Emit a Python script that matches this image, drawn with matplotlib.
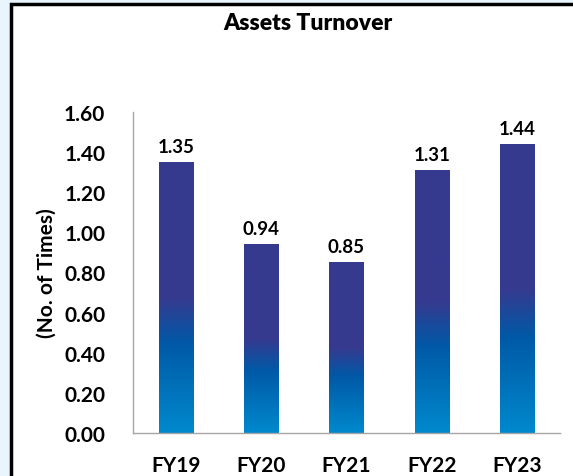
import matplotlib
matplotlib.use("Agg")
import matplotlib.pyplot as plt
import numpy as np
from matplotlib.colors import LinearSegmentedColormap
from matplotlib.patches import Rectangle

categories = ["FY19", "FY20", "FY21", "FY22", "FY23"]
values = [1.35, 0.94, 0.85, 1.31, 1.44]
yticks = [0.0, 0.2, 0.4, 0.6, 0.8, 1.0, 1.2, 1.4, 1.6]
title = "Assets Turnover"
ylabel = "(No. of Times)"

plt.rcParams['font.family'] = ['Lato', 'DejaVu Sans']

W, H = 573, 477
fig = plt.figure(figsize=(W/100, H/100), dpi=100)
fig.patch.set_facecolor("#E9F5FC")

# white panel with black border (top & left visible)
panel = Rectangle((11/W, -0.05), 1.1, 1 - 5/H + 0.05, transform=fig.transFigure,
                  facecolor="white", edgecolor="black", linewidth=2.5, zorder=-10)
fig.patches.append(panel)

ax = fig.add_axes([133/W, 1 - 434/H, (560-133)/W, (434-113)/H], zorder=5)
ax.set_facecolor("none")

cmap = LinearSegmentedColormap.from_list("bar", [
    (0.0, "#0089CD"),
    (0.33, "#0059A7"),
    (0.5, "#363A8F"),
    (1.0, "#363A8F"),
])
grad = np.linspace(0, 1, 256).reshape(-1, 1)
bw = 0.40
for i, v in enumerate(values):
    ax.imshow(grad, extent=[i - bw/2, i + bw/2, 0, v], origin="lower",
              aspect="auto", cmap=cmap, zorder=2, interpolation="bilinear")
    ax.text(i, v + 0.035, f"{v:.2f}", ha="center", va="bottom",
            fontsize=13.5, fontweight="bold", color="black")

ax.set_xlim(-0.5, len(categories) - 0.5)
ax.set_ylim(0, 1.6)
ax.set_xticks(range(len(categories)))
ax.set_xticklabels(categories, fontsize=15, fontweight="bold")
ax.set_yticks(yticks)
ax.set_yticklabels([f"{t:.2f}" for t in yticks], fontsize=15, fontweight="bold")
ax.tick_params(axis="both", length=0)
ax.tick_params(axis="y", pad=20)
ax.tick_params(axis="x", pad=16)
for s in ["top", "right"]:
    ax.spines[s].set_visible(False)
for s in ["left", "bottom"]:
    ax.spines[s].set_color("#A6A6A6")
    ax.spines[s].set_linewidth(1.0)

ax.set_ylabel(ylabel, fontsize=15, fontweight="bold", labelpad=5)
fig.text(308/W, 1 - 23/H, title, ha="center", va="center",
         fontsize=16.5, fontweight="heavy")

fig.savefig("out.png", dpi=100, facecolor=fig.get_facecolor())
